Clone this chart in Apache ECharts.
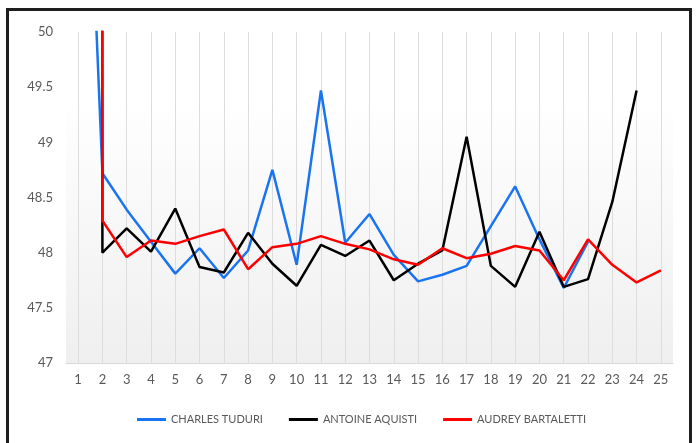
<!DOCTYPE html>
<html>
<head>
<meta charset="utf-8">
<script src="https://cdn.jsdelivr.net/npm/echarts@6/dist/echarts.min.js"></script>
<style>
  html, body { margin: 0; padding: 0; background: #fff; }
</style>
</head>
<body>
<div id="chart_main" style="width: 697px;height: 443px;"></div>
<script>
  var categories = ['1', '2', '3', '4', '5', '6', '7', '8', '9', '10', '11', '12', '13',
    '14', '15', '16', '17', '18', '19', '20', '21', '22', '23', '24', '25'];
  var seriesNames = ['CHARLES TUDURI', 'ANTOINE AQUISTI', 'AUDREY BARTALETTI'];
  // first point of each series lies far above the axis max, so the line is clipped at the top
  var charles = [54, 48.72, 48.39, 48.10, 47.81, 48.04, 47.77, 48.02, 48.75, 47.89, 49.47, 48.09, 48.35,
    47.98, 47.74, 47.80, 47.88, 48.24, 48.60, 48.12, 47.68, 48.10, null, null, null];
  var antoine = [300, 48.00, 48.22, 48.01, 48.40, 47.87, 47.82, 48.18, 47.90, 47.70, 48.07, 47.97, 48.11,
    47.75, 47.90, 48.02, 49.05, 47.88, 47.69, 48.19, 47.69, 47.76, 48.46, 49.47, null];
  var audrey = [300, 48.29, 47.96, 48.11, 48.08, 48.15, 48.21, 47.85, 48.05, 48.08, 48.15, 48.08, 48.03,
    47.94, 47.89, 48.04, 47.95, 47.99, 48.06, 48.02, 47.75, 48.12, 47.89, 47.73, 47.84];
  var yMin = 47, yMax = 50, yStep = 0.5;

  var colors = ['#1a74f2', '#000000', '#ff0000'];
  var font = 'Lato';

  var chart = echarts.init(document.getElementById('chart_main'));

  function line(name, data, color) {
    return {
      name: name,
      type: 'line',
      data: data,
      symbol: 'none',
      clip: true,
      connectNulls: false,
      lineStyle: { color: color, width: 2.5 },
      itemStyle: { color: color }
    };
  }

  chart.setOption({
    animation: false,
    color: colors,
    graphic: [{
      type: 'rect',
      shape: { x: 7.5, y: 9.5, width: 683, height: 450 },
      style: { fill: 'none', stroke: '#1e1e1e', lineWidth: 3 },
      silent: true
    }],
    legend: {
      data: seriesNames,
      left: 132,
      top: 409,
      icon: 'rect',
      itemWidth: 29,
      itemHeight: 3,
      itemGap: 26,
      textStyle: { fontFamily: font, fontSize: 11, color: '#595959' }
    },
    grid: {
      left: 66,
      right: 24,
      top: 32,
      bottom: 80,
      show: true,
      borderWidth: 0,
      backgroundColor: {
        type: 'linear', x: 0, y: 0, x2: 0, y2: 1,
        colorStops: [
          { offset: 0, color: '#ffffff' },
          { offset: 0.2, color: '#ffffff' },
          { offset: 1, color: '#efefef' }
        ]
      }
    },
    xAxis: {
      type: 'category',
      data: categories,
      boundaryGap: true,
      axisLine: { show: true, lineStyle: { color: '#d9d9d9', width: 1 } },
      axisTick: { show: false },
      axisLabel: { fontFamily: font, fontSize: 13, color: '#595959', margin: 10 },
      splitLine: { show: true, alignWithLabel: true, lineStyle: { color: '#dddddd', width: 1 } }
    },
    yAxis: {
      type: 'value',
      min: yMin,
      max: yMax,
      interval: yStep,
      axisLine: { show: false },
      axisTick: { show: false },
      splitLine: { show: false },
      axisLabel: { fontFamily: font, fontSize: 13, color: '#595959', margin: 13 }
    },
    series: [
      line(seriesNames[0], charles, colors[0]),
      line(seriesNames[1], antoine, colors[1]),
      line(seriesNames[2], audrey, colors[2])
    ]
  });
</script>
</body>
</html>
